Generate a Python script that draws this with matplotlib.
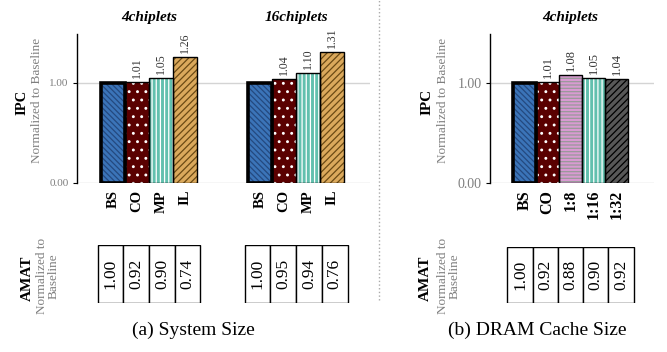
import matplotlib
matplotlib.use('Agg')
import matplotlib.pyplot as plt
from matplotlib.patches import Rectangle
from matplotlib.lines import Line2D

plt.rcParams['font.family'] = ['Liberation Serif', 'DejaVu Serif']
plt.rcParams['hatch.linewidth'] = 0.9

# data
cats_a = ['BS', 'CO', 'MP', 'IL']
groups_a = ['4chiplets', '16chiplets']
ipc_a = [[1.00, 1.01, 1.05, 1.26], [1.00, 1.04, 1.10, 1.31]]
amat_a = [[1.00, 0.92, 0.90, 0.74], [1.00, 0.95, 0.94, 0.76]]

cats_b = ['BS', 'CO', '1:8', '1:16', '1:32']
group_b = '4chiplets'
ipc_b = [1.00, 1.01, 1.08, 1.05, 1.04]
amat_b = [1.00, 0.92, 0.88, 0.90, 0.92]

# look of each configuration: face, hatch, hatch colour
styles = {
    'BS': ('#3b74b8', '\\\\\\\\\\\\', '#24497f'),
    'CO': ('#5a0000', '..', 'white'),
    'MP': ('#62c0ae', '||||', 'white'),
    'IL': ('#dba95c', '/////', '#6b4a14'),
    '1:8': ('#d99bd2', '-----', '#999999'),
    '1:16': ('#62c0ae', '||||', 'white'),
    '1:32': ('#585858', '/////', 'black'),
}
GRAY = '#7f7f7f'

W, H = 667, 352
fig = plt.figure(figsize=(6.67, 3.52), dpi=100)


def px(x0, y0, x1, y1):
    # pixel box -> figure fraction rect
    return [x0 / W, 1 - y1 / H, (x1 - x0) / W, (y1 - y0) / H]


def draw_bars(ax, pos, vals, cats, fs_val):
    for x, v, c in zip(pos, vals, cats):
        face, hatch, hcol = styles[c]
        ax.bar(x, v, width=1.0, color=face, linewidth=0, zorder=2)
        ax.bar(x, v, width=1.0, color='none', edgecolor=hcol, hatch=hatch,
               linewidth=0, zorder=3)
        lw = 2.6 if c == 'BS' else 1.0
        ax.bar(x, v, width=1.0, color='none', edgecolor='black', linewidth=lw, zorder=4)
        if c != 'BS':
            ax.text(x, v + 0.04, '%.2f' % v, rotation=90, ha='center', va='bottom',
                    fontsize=fs_val, color='#333333', zorder=5)


def style_axis(ax, xlim, fs_tick):
    ax.set_xlim(*xlim)
    ax.set_ylim(0, 1.49)
    ax.set_yticks([0, 1])
    ax.set_yticklabels(['0.00', '1.00'], color=GRAY, fontsize=fs_tick)
    ax.tick_params(axis='y', length=3, width=0.8, pad=3)
    ax.tick_params(axis='x', length=0, pad=5)
    ax.grid(axis='y', color='#d4d4d4', linewidth=1, zorder=0)
    for s in ['top', 'right', 'bottom']:
        ax.spines[s].set_visible(False)
    ax.spines['left'].set_linewidth(1.0)


def draw_table(tax, centers, vals, w, xlim):
    tax.set_xlim(*xlim)
    tax.set_ylim(0, 1)
    tax.axis('off')
    for c, v in zip(centers, vals):
        tax.add_patch(Rectangle((c - w / 2, 0), w, 1, facecolor='white',
                                edgecolor='black', linewidth=1.0))
        tax.text(c, 0.5, '%.2f' % v, rotation=90, ha='center', va='center', fontsize=12.5)


# ---- (a) system size ----
ax1 = fig.add_axes(px(77, 34, 370, 183))
starts = [0, 6.125]
pos_a, lab_a = [], []
for g, s in enumerate(starts):
    p = [s + i for i in range(len(cats_a))]
    draw_bars(ax1, p, ipc_a[g], cats_a, 8.5)
    pos_a += p
    lab_a += cats_a
    ax1.text(s + 1.5, 1.65, groups_a[g], ha='center', va='center', fontsize=11,
             fontweight='bold', fontstyle='italic', clip_on=False)
xlim_a = (-1.5, 10.7)
style_axis(ax1, xlim_a, 8)
ax1.set_xticks(pos_a)
ax1.set_xticklabels(lab_a, rotation=90, fontweight='bold', fontsize=10.5)

for g, s in enumerate(starts):
    tax = fig.add_axes(px(77, 245, 370, 303))
    w = 1.07
    cen = [s + 1.5 + (i - 1.5) * w for i in range(len(cats_a))]
    draw_table(tax, cen, amat_a[g], w, xlim_a)

# ---- (b) dram cache size ----
ax2 = fig.add_axes(px(490, 34, 654, 183))
pos_b = list(range(len(cats_b)))
draw_bars(ax2, pos_b, ipc_b, cats_b, 9)
ax2.text(2, 1.65, group_b, ha='center', va='center', fontsize=11,
         fontweight='bold', fontstyle='italic', clip_on=False)
xlim_b = (-1.5, 5.63)
style_axis(ax2, xlim_b, 10)
ax2.set_xticks(pos_b)
ax2.set_xticklabels(cats_b, rotation=90, fontweight='bold', fontsize=11.5)

tax2 = fig.add_axes(px(490, 247, 654, 303))
wb = 1.096
draw_table(tax2, [2 + (i - 2) * wb for i in range(len(cats_b))], amat_b, wb, xlim_b)

# ---- side labels ----
for xi, xn, fs in [(22, 37, 10.5), (427, 443, 11)]:
    fig.text(xi / W, 1 - 102 / H, 'IPC', rotation=90, ha='center', va='center',
             fontsize=fs, fontweight='bold')
    fig.text(xn / W, 1 - 100 / H, 'Normalized to Baseline', rotation=90, ha='center',
             va='center', fontsize=9.5, color=GRAY)
for xa, xn in [(27, 48), (425, 449)]:
    fig.text(xa / W, 1 - 278 / H, 'AMAT', rotation=90, ha='center', va='center',
             fontsize=11, fontweight='bold')
    fig.text(xn / W, 1 - 276 / H, 'Normalized to\nBaseline', rotation=90, ha='center',
             va='center', fontsize=9.5, color=GRAY, linespacing=1.0,
             multialignment='center')

fig.text(193 / W, 1 - 330 / H, '(a) System Size', ha='center', va='center', fontsize=14)
fig.text(537 / W, 1 - 330 / H, '(b) DRAM Cache Size', ha='center', va='center', fontsize=14)

fig.add_artist(Line2D([379 / W, 379 / W], [1 - 300 / H, 1.0], transform=fig.transFigure,
                      color='#aaaaaa', linestyle=':', linewidth=1.0))

fig.savefig('out.png', dpi=100)
